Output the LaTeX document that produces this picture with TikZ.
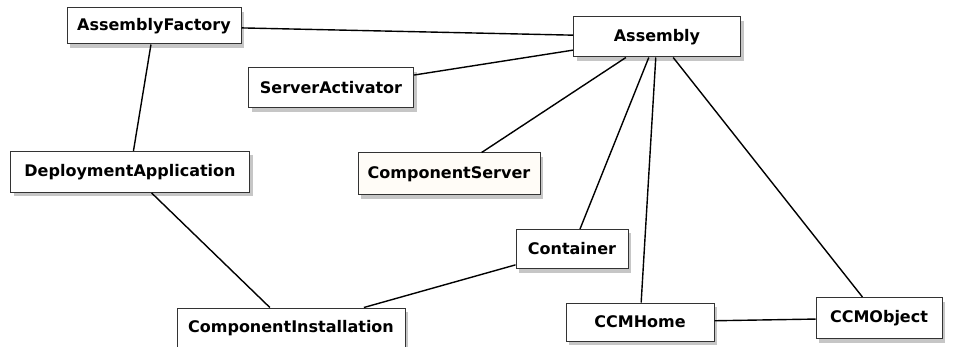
\documentclass[tikz,border=0pt]{standalone}
\usepackage{fontspec}
\setmainfont{DejaVu Sans}
\usetikzlibrary{shadows}
\definecolor{creamfill}{RGB}{255,252,247}
\begin{document}
\begin{tikzpicture}[x=1pt, y=-1pt]
    \tikzset{box/.style={draw=black!80, line width=1pt, fill=white,
        font=\bfseries\fontsize{16}{19}\selectfont, inner sep=0pt,
        drop shadow={shadow xshift=3pt, shadow yshift=-4pt, opacity=.45}}}
    \tikzset{link/.style={line width=1.4pt, black}}
    \useasboundingbox (0,0) rectangle (955,347);
    % boxes
    \node[box, minimum width=174pt, minimum height=36pt] (factory) at (154,26) {AssemblyFactory};
    \node[box, minimum width=167pt, minimum height=40pt] (assembly) at (657,37) {Assembly};
    \node[box, minimum width=165pt, minimum height=40pt] (activator) at (331,88) {ServerActivator};
    \node[box, minimum width=239pt, minimum height=41pt] (deploy) at (130,172) {DeploymentApplication};
    \node[box, fill=creamfill, minimum width=182pt, minimum height=42pt] (server) at (449,174) {ComponentServer};
    \node[box, minimum width=112pt, minimum height=39pt] (container) at (572,249) {Container};
    \node[box, minimum width=228pt, minimum height=40pt] (install) at (291,328) {ComponentInstallation};
    \node[box, minimum width=148pt, minimum height=38pt] (home) at (640,322) {CCMHome};
    \node[box, minimum width=126pt, minimum height=41pt] (object) at (879,318) {CCMObject};
    % links
    \draw[link] (factory) -- (assembly);
    \draw[link] (activator) -- (assembly);
    \draw[link] (factory) -- (deploy);
    \draw[link] (deploy) -- (install);
    \draw[link] (install) -- (container);
    \draw[link] (assembly) -- (server);
    \draw[link] (assembly) -- (container);
    \draw[link] (assembly) -- (home);
    \draw[link] (assembly) -- (object);
    \draw[link] (home) -- (object);
\end{tikzpicture}
\end{document}
